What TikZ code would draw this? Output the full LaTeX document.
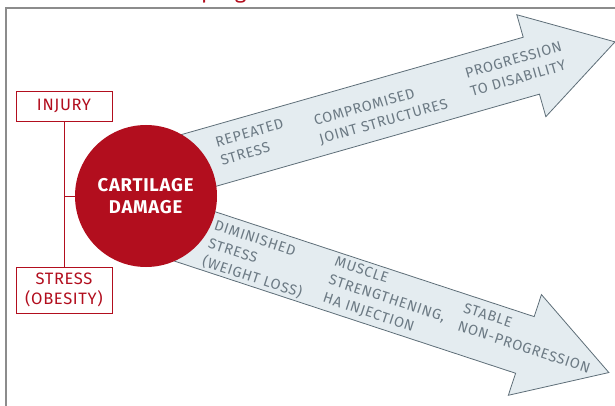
\documentclass[tikz,border=0pt]{standalone}
\usepackage{fontspec}
\setmainfont{Fira Sans}
\newfontfamily\pathfont{Fira Sans}[LetterSpace=5]
\newfontfamily\boxfont{Fira Sans}[LetterSpace=4]
\usetikzlibrary{positioning}
\definecolor{oared}{RGB}{178,14,30}
\definecolor{oafill}{RGB}{228,236,240}
\definecolor{oaline}{RGB}{94,110,120}
\definecolor{oatext}{RGB}{108,122,132}
\definecolor{oaframe}{RGB}{140,140,140}

\begin{document}
\begin{tikzpicture}[x=1pt, y=-1pt]
  \tikzset{
    causebox/.style={draw=oared, thick, fill=white, text=oared, font=\boxfont\fontsize{16.5}{20}\selectfont,
      minimum width=96pt, minimum height=30pt, align=center, inner sep=2pt},
    damage/.style={circle, fill=oared, text=white, minimum size=142pt, align=center,
      font=\boxfont\fontsize{18.5}{21.5}\selectfont},
    pathtext/.style={text=oatext, align=left, inner sep=0pt, font=\pathfont\fontsize{14.5}{19}\selectfont},
    bigarrow/.style={draw=oaline, fill=oafill, line width=0.8pt, line join=miter}
  }
  \useasboundingbox (0,0) rectangle (615,406);

  % title, cut off by the page
  \begin{scope}
    \clip (0,0) rectangle (615,406);
    \node[anchor=base west, text=oared, inner sep=0pt, font=\fontsize{22}{26}\selectfont] (title) at (201,-1.5) {progression};
  \end{scope}

  % frame
  \draw[oaframe, line width=1.5pt] (616,8) -- (6,8) -- (6,407);

  % upper arrow (worsening)
  \begin{scope}[shift={(188,163.5)}, rotate=15.9]
    \draw[bigarrow] (-20,-29.6) -- (357,-29.6) -- (357,-53) -- (444,0) -- (357,53) -- (357,29.6) -- (-20,29.6) -- cycle;
  \end{scope}

  % lower arrow (stable)
  \begin{scope}[shift={(205.7,240)}, rotate=-18.2]
    \draw[bigarrow] (-25,-29.8) -- (336,-29.8) -- (336,-53) -- (424.4,0) -- (336,53) -- (336,29.8) -- (-25,29.8) -- cycle;
  \end{scope}

  % causes
  \node[causebox] (injury) at (64,106) {INJURY};
  \node[causebox, minimum height=46pt] (obesity) at (64,290) {STRESS\\(OBESITY)};
  \node[damage] (cartilage) at (146,196) {\textbf{CARTILAGE}\\\textbf{DAMAGE}};
  \coordinate (joint) at (64,196);
  \draw[oared, thick] (injury) -- (obesity);
  \draw[oared, thick] (joint) -- (cartilage);

  % texts on the upper arrow
  \node[pathtext, rotate=15.9] (repeated) at (252,142) {REPEATED\\STRESS};
  \node[pathtext, rotate=15.9] (compromised) at (381,113) {COMPROMISED\\JOINT STRUCTURES};
  \node[pathtext, rotate=15.9] (disability) at (516,69) {PROGRESSION\\TO DISABILITY};

  % texts on the lower arrow
  \node[pathtext, rotate=-18.2] (diminished) at (258,260) {DIMINISHED\\STRESS\\(WEIGHT LOSS)};
  \node[pathtext, rotate=-18.2] (muscle) at (387,299) {MUSCLE\\STRENGTHENING,\\HA INJECTION};
  \node[pathtext, rotate=-18.2] (stable) at (527,338) {STABLE\\NON-PROGRESSION};
\end{tikzpicture}
\end{document}
